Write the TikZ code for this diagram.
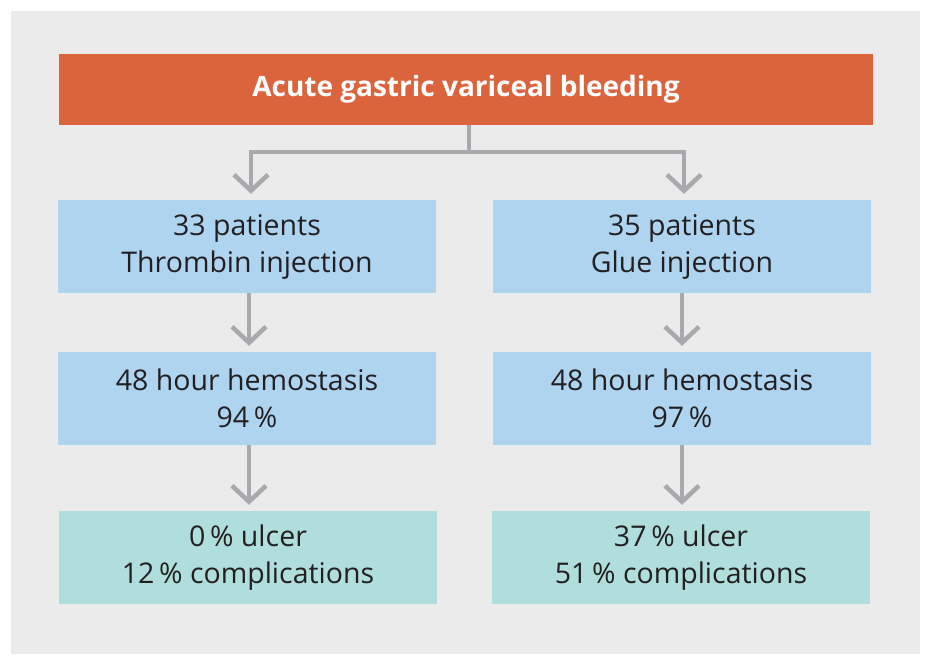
\documentclass[tikz,border=0pt]{standalone}
\usepackage{fontspec}
\setmainfont{Open Sans}
\usepackage{xcolor}
\definecolor{fig_panel}{HTML}{EBEBEB}
\definecolor{fig_orange}{HTML}{DC643C}
\definecolor{fig_blue}{HTML}{AED4F0}
\definecolor{fig_teal}{HTML}{B0DEDC}
\definecolor{fig_gray}{HTML}{A7A9AC}
\definecolor{fig_text}{HTML}{231F20}
\usetikzlibrary{positioning,calc,arrows.meta}
\tikzset{TITLE/.style={rectangle,minimum width=814pt,minimum height=71pt,inner sep=0pt,fill=fig_orange,text=white,font=\fontsize{28}{32}\selectfont\bfseries}}
\tikzset{GROUP/.style={rectangle,minimum width=378pt,minimum height=93pt,inner sep=0pt,fill=fig_blue,text=fig_text,align=center,font=\fontsize{28.5}{37}\selectfont}}
\tikzset{RESULT/.style={GROUP,fill=fig_teal}}
\tikzset{ARROW/.style={line width=4.5pt,draw=fig_gray,-{Straight Barb[length=16pt,width=34pt]},shorten >=6pt}}
\tikzset{LINK/.style={line width=4.5pt,draw=fig_gray}}

\begin{document}
\begin{tikzpicture}[x=1pt,y=-1pt]

\useasboundingbox (0,0) rectangle (932,671);
\fill[fig_panel] (11,11) rectangle (920,654);

\node[TITLE] (n_bleeding) at (466,89.5) {Acute gastric variceal bleeding};

\node[GROUP] (n_thrombin) at (247,246.5) {33 patients\\Thrombin injection};
\node[GROUP] (n_glue) at (682,246.5) {35 patients\\Glue injection};

\node[GROUP] (n_thrombin_hem) at (247,398.5) {48 hour hemostasis\\94\,\%};
\node[GROUP] (n_glue_hem) at (682,398.5) {48 hour hemostasis\\97\,\%};

\node[RESULT] (n_thrombin_ulc) at (248,557.5) {0\,\% ulcer\\12\,\% complications};
\node[RESULT] (n_glue_ulc) at (681,557.5) {37\,\% ulcer\\51\,\% complications};

% split below the title
\coordinate (c_split) at (469,152);
\draw[LINK] (c_split|-n_bleeding.south) -- (c_split);
\draw[ARROW] (c_split) -| ($(n_thrombin.north)+(4,0)$);
\draw[ARROW] (c_split) -| ($(n_glue.north)+(2,0)$);

\draw[ARROW] ($(n_thrombin.south)+(2,0)$) -- ($(n_thrombin_hem.north)+(2,0)$);
\draw[ARROW] (n_glue.south) -- (n_glue_hem.north);

\draw[ARROW] ($(n_thrombin_hem.south)+(2,0)$) -- ($(n_thrombin_ulc.north)+(1,0)$);
\draw[ARROW] (n_glue_hem.south) -- ($(n_glue_ulc.north)+(1,0)$);

\end{tikzpicture}
\end{document}
